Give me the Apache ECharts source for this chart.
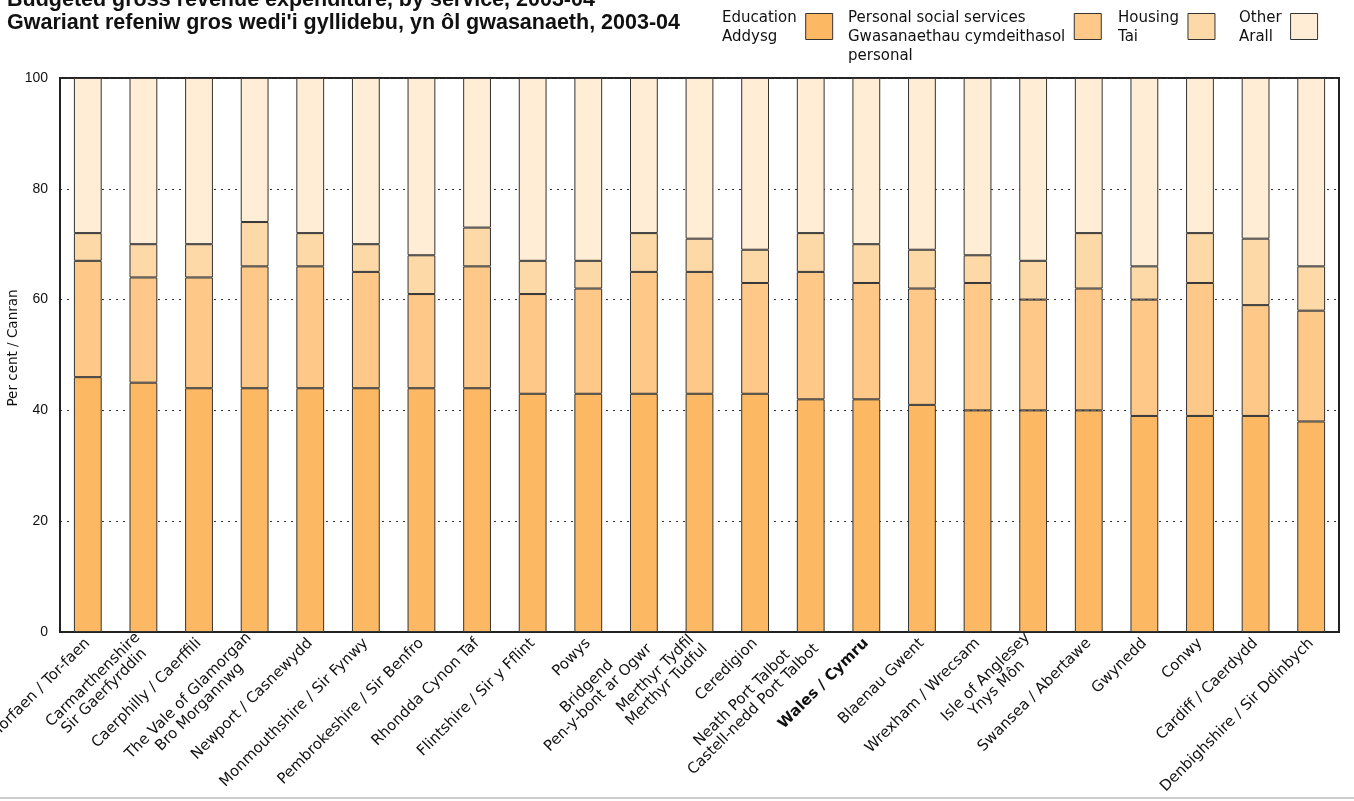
<!DOCTYPE html>
<html>
<head>
<meta charset="utf-8">
<script src="https://cdn.jsdelivr.net/npm/echarts@6/dist/echarts.min.js"></script>
<style>html,body{margin:0;padding:0;background:#fff}#c{width:1354px;height:801px}</style>
</head>
<body>
<div id="c"></div>
<script>
const categories = [
  "Torfaen / Tor-faen",
  "Carmarthenshire\nSir Gaerfyrddin",
  "Caerphilly / Caerffili",
  "The Vale of Glamorgan\nBro Morgannwg",
  "Newport / Casnewydd",
  "Monmouthshire / Sir Fynwy",
  "Pembrokeshire / Sir Benfro",
  "Rhondda Cynon Taf",
  "Flintshire / Sir y Fflint",
  "Powys",
  "Bridgend\nPen-y-bont ar Ogwr",
  "Merthyr Tydfil\nMerthyr Tudful",
  "Ceredigion",
  "Neath Port Talbot\nCastell-nedd Port Talbot",
  "Wales / Cymru",
  "Blaenau Gwent",
  "Wrexham / Wrecsam",
  "Isle of Anglesey\nYnys Môn",
  "Swansea / Abertawe",
  "Gwynedd",
  "Conwy",
  "Cardiff / Caerdydd",
  "Denbighshire / Sir Ddinbych"
];
// percentages
const education      = [46,45,44,44,44,44,44,44,43,43,43,43,43,42,42,41,40,40,40,39,39,39,38];
const personalSocial = [21,19,20,22,22,21,17,22,18,19,22,22,20,23,21,21,23,20,22,21,24,20,20];
const housing        = [ 5, 6, 6, 8, 6, 5, 7, 7, 6, 5, 7, 6, 6, 7, 7, 7, 5, 7,10, 6, 9,12, 8];
const other          = [28,30,30,26,28,30,32,27,33,33,28,29,31,28,30,31,32,33,28,34,28,29,34];
const yTicks = [0,20,40,60,80,100];

const seriesNames = [
  "Education\nAddysg",
  "Personal social services\nGwasanaethau cymdeithasol\npersonal",
  "Housing\nTai",
  "Other\nArall"
];
const colors = ["#FDB863","#FEC988","#FED9A8","#FFEDD5"];
const dataSets = [education, personalSocial, housing, other];

const chart = echarts.init(document.getElementById('c'), null, {renderer:'canvas'});
const FONT = "Liberation Sans, Arial, Helvetica, sans-serif";
const WFONT = "DejaVu Sans, Verdana, sans-serif";

const legendPos = [
  {left: 722, top: 6, pad: 3},
  {left: 848, top: -13, pad: 22},
  {left: 1118, top: 6, pad: 3},
  {left: 1239, top: 6, pad: 3}
];

const option = {
  animation: false,
  backgroundColor: '#fff',
  title: {
    text: "Budgeted gross revenue expenditure, by service, 2003-04\nGwariant refeniw gros wedi'i gyllidebu, yn ôl gwasanaeth, 2003-04",
    left: 7, top: -11, padding: 0,
    textStyle: {fontFamily: FONT, fontWeight: 'bold', fontSize: 21.5, lineHeight: 23, color: '#111'}
  },
  legend: seriesNames.map((n, i) => ({
    data: [n],
    left: legendPos[i].left,
    top: legendPos[i].top,
    padding: 0,
    align: 'right',
    itemWidth: 27, itemHeight: 26,
    itemGap: 0,
    selectedMode: false,
    icon: 'rect',
    itemStyle: {borderColor: '#333', borderWidth: 1},
    formatter: function (name) {
      return name.split('\n').map(l => '{l|' + l + '}').join('\n');
    },
    textStyle: {fontFamily: WFONT, fontSize: 15, lineHeight: 19, color: '#111',
      padding: [legendPos[i].pad, 4, 0, 0],
      rich: {l: {align: 'left', fontFamily: WFONT, fontSize: 15, lineHeight: 19, color: '#111'}}}
  })),
  grid: {left: 60, right: 15, top: 78, bottom: 169, show: true, borderColor: '#222', borderWidth: 2,
    outerBoundsMode: 'none', containLabel: false},
  xAxis: {
    type: 'category',
    data: categories,
    axisLine: {lineStyle: {color: '#222', width: 2}},
    axisTick: {show: false},
    axisLabel: {
      interval: 0, rotate: 45, margin: 9,
      fontFamily: WFONT, fontSize: 15, color: '#111', lineHeight: 16,
      hideOverlap: false,
      formatter: function (v) {
        const lines = v.split('\n');
        const st = v === "Wales / Cymru" ? 'b' : 'c';
        return lines.map(l => '{' + st + '|' + l + '}').join('\n');
      },
      rich: {
        c: {align: 'center', fontFamily: WFONT, fontSize: 15, color: '#111', lineHeight: 16},
        b: {align: 'center', fontFamily: WFONT, fontSize: 15, fontWeight: 'bold', color: '#111', lineHeight: 16}
      }
    }
  },
  yAxis: {
    type: 'value', min: 0, max: 100, interval: 20,
    name: 'Per cent / Canran', nameLocation: 'middle', nameGap: 40,
    nameMoveOverlap: false,
    nameTextStyle: {fontFamily: WFONT, fontSize: 13.5, color: '#111', padding: [0, 0, 0, 14]},
    axisLine: {show: true, lineStyle: {color: '#222', width: 2}},
    axisTick: {show: false},
    axisLabel: {fontFamily: FONT, fontSize: 14, color: '#111', margin: 12,
      formatter: v => yTicks.includes(v) ? String(v) : ''},
    splitLine: {show: true, lineStyle: {color: '#333', type: [2, 5], width: 1.2}}
  },
  series: dataSets.map((d, i) => ({
    name: seriesNames[i],
    type: 'bar',
    stack: 'total',
    data: d,
    barWidth: '50%',
    itemStyle: {color: colors[i], borderColor: '#333', borderWidth: 1}
  })),
  graphic: [{
    type: 'line', shape: {x1: 0, y1: 798, x2: 1354, y2: 798},
    style: {stroke: '#bbb', lineWidth: 1.5}
  }]
};
chart.setOption(option);
</script>
</body>
</html>
